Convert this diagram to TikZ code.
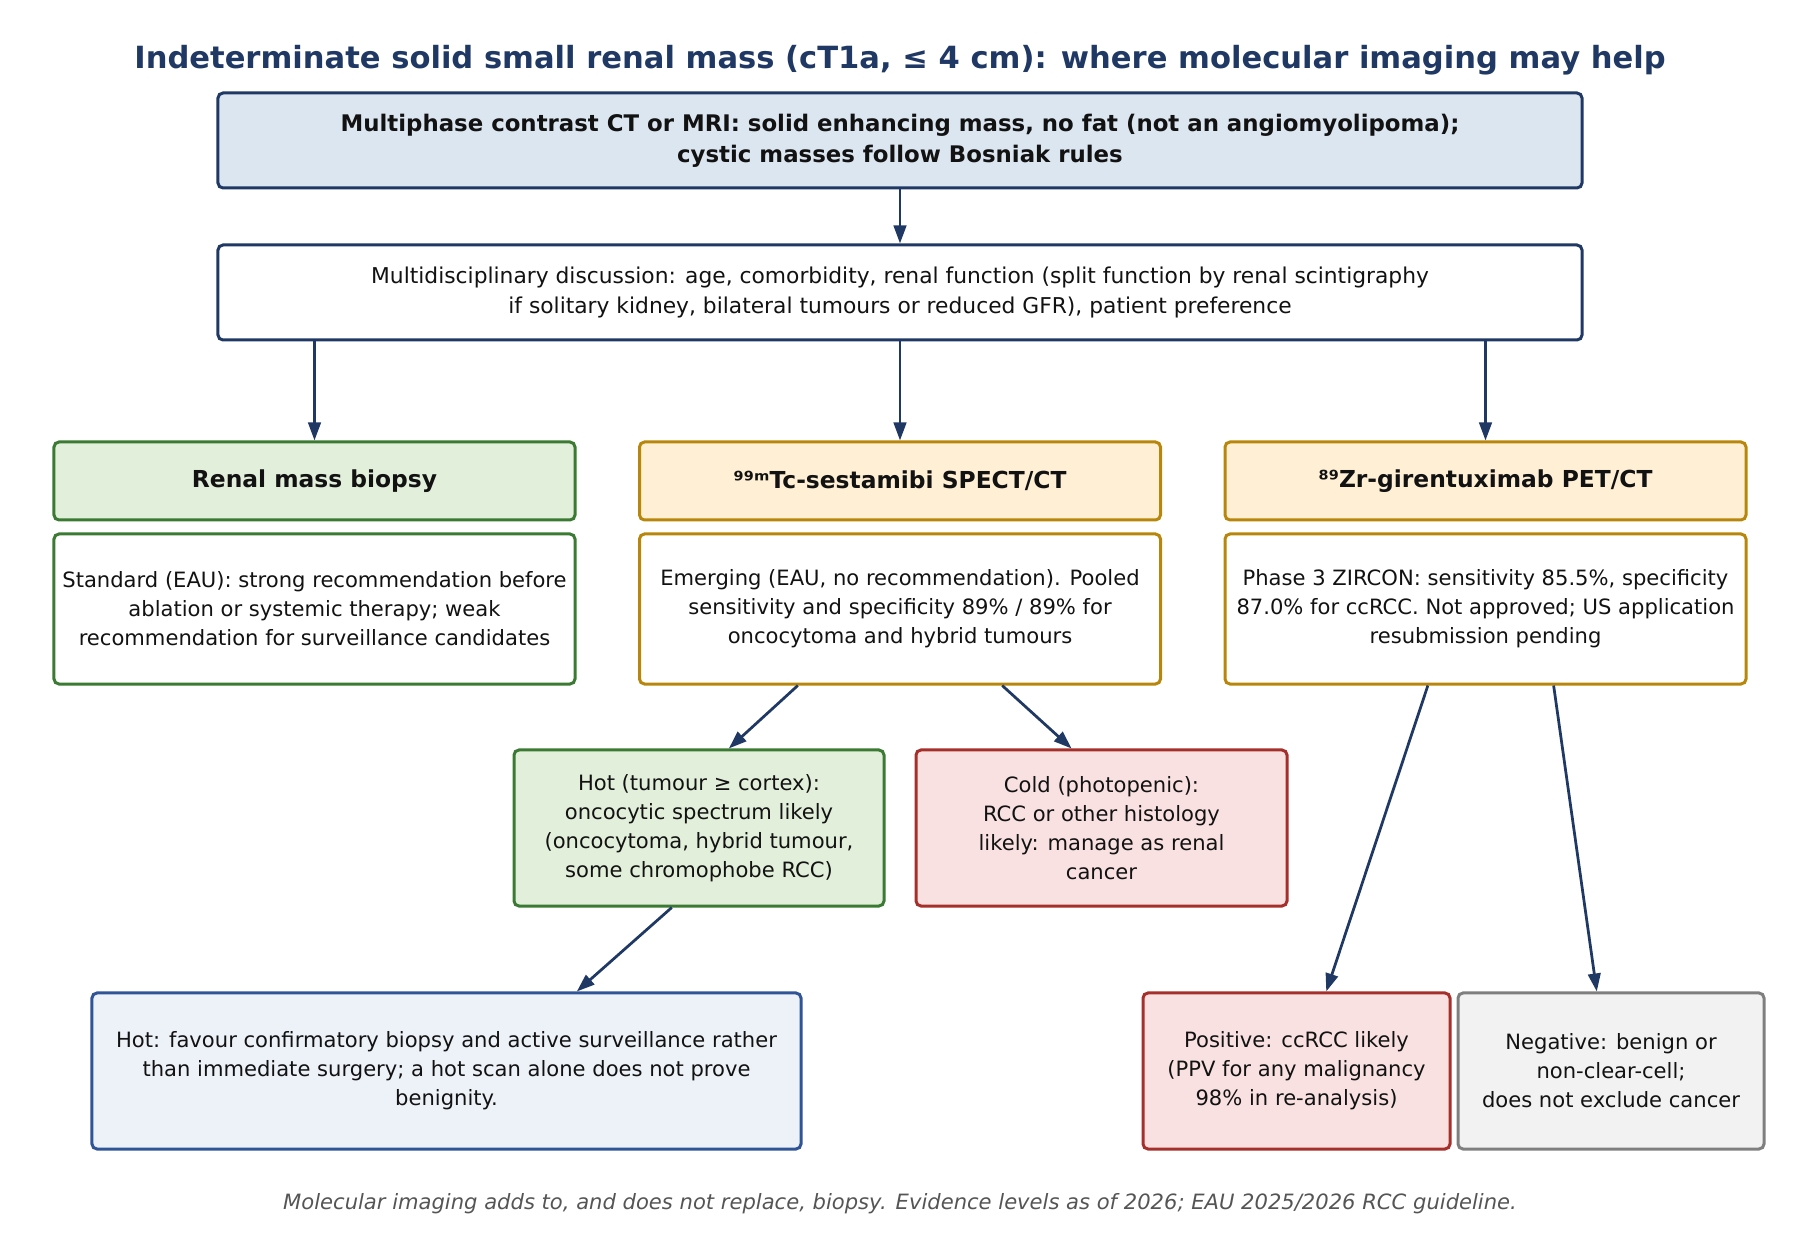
\documentclass[tikz,border=0pt]{standalone}
\usepackage{fontspec}
\setmainfont{DejaVu Sans}
\usetikzlibrary{calc,positioning,arrows.meta}
\definecolor{navy}{HTML}{1F3864}
\definecolor{imgfill}{HTML}{DCE6F1}
\definecolor{grnedge}{HTML}{3A7A32}
\definecolor{grnfill}{HTML}{E2EFDA}
\definecolor{goldedge}{HTML}{B8860B}
\definecolor{goldfill}{HTML}{FFF0D5}
\definecolor{rededge}{HTML}{A52F2A}
\definecolor{redfill}{HTML}{F9E1E1}
\definecolor{bluedge}{HTML}{2F5597}
\definecolor{blufill}{HTML}{EDF2F9}
\definecolor{grayedge}{HTML}{7F7F7F}
\definecolor{grayfill}{HTML}{F2F2F2}
\definecolor{notegray}{HTML}{555555}
\tikzset{
  >={Triangle[length=3.6mm,width=2.5mm]},
  box/.style={
    rectangle,
    rounded corners=1mm,
    line width=0.6mm,
    inner sep=0pt,
    align=center,
    text=black!93,
    font=\fontsize{12}{16.5}\selectfont},
  headbox/.style={box, minimum width=104.2mm, minimum height=15.6mm,
    font=\fontsize{13.3}{16}\selectfont\bfseries},
  bodybox/.style={box, minimum width=104.2mm, minimum height=30mm},
  leafbox/.style={box, minimum height=31.2mm},
  myarrow/.style={draw=navy, line width=0.55mm, ->},
}
\begin{document}
\begin{tikzpicture}[x=0.2mm, y=-0.2mm]
    \tikzset{
        greenbox/.style={draw=grnedge, fill=grnfill},
        goldbox/.style={draw=goldedge, fill=goldfill},
        redbox/.style={draw=rededge, fill=redfill},
    }
    \useasboundingbox (0,0) rectangle (1800,1255);

    \node[font=\fontsize{17.4}{20}\selectfont\bfseries, text=navy] (title) at (900,60)
        {Indeterminate solid small renal mass (cT1a, ≤ 4 cm): where molecular imaging may help};

    % imaging and discussion
    \node[box, draw=navy, fill=imgfill, minimum width=272.8mm, minimum height=19mm,
        font=\fontsize{13}{17.7}\selectfont\bfseries] (imaging) at (900,140.5)
        {Multiphase contrast CT or MRI: solid enhancing mass, no fat (not an angiomyolipoma);\\
         cystic masses follow Bosniak rules};
    \node[box, draw=navy, fill=white, minimum width=272.8mm, minimum height=19mm,
        font=\fontsize{12.4}{16.8}\selectfont, below=10.8mm of imaging] (mdt)
        {Multidisciplinary discussion: age, comorbidity, renal function (split function by renal scintigraphy\\
         if solitary kidney, bilateral tumours or reduced GFR), patient preference};

    % three options
    \node[headbox, greenbox] (biopsy) at (314.5,481) {Renal mass biopsy};
    \node[headbox, goldbox] (sestamibi) at (900,481) {⁹⁹ᵐTc-sestamibi SPECT/CT};
    \node[headbox, goldbox] (zircon) at (1485.5,481) {⁸⁹Zr-girentuximab PET/CT};

    \node[bodybox, draw=grnedge, fill=white, below=2.2mm of biopsy] (biopsytxt)
        {Standard (EAU): strong recommendation before\\
         ablation or systemic therapy; weak\\
         recommendation for surveillance candidates};
    \node[bodybox, draw=goldedge, fill=white, below=2.2mm of sestamibi] (sestamibitxt)
        {Emerging (EAU, no recommendation). Pooled\\
         sensitivity and specificity 89\% / 89\% for\\
         oncocytoma and hybrid tumours};
    \node[bodybox, draw=goldedge, fill=white, below=2.2mm of zircon] (zircontxt)
        {Phase 3 ZIRCON: sensitivity 85.5\%, specificity\\
         87.0\% for ccRCC. Not approved; US application\\
         resubmission pending};

    % sestamibi results
    \node[leafbox, greenbox, minimum width=74mm] (hot) at (699,828)
        {Hot (tumour ≥ cortex):\\
         oncocytic spectrum likely\\
         (oncocytoma, hybrid tumour,\\
         some chromophobe RCC)};
    \node[leafbox, redbox, minimum width=74.2mm] (cold) at (1101.5,828)
        {Cold (photopenic):\\
         RCC or other histology\\
         likely: manage as renal\\
         cancer};
    \node[leafbox, draw=bluedge, fill=blufill, minimum width=141.8mm] (hotplan) at (446.5,1071)
        {Hot: favour confirmatory biopsy and active surveillance rather\\
         than immediate surgery; a hot scan alone does not prove\\
         benignity.};

    % girentuximab results
    \node[leafbox, redbox, minimum width=61.4mm] (positive) at (1296.5,1071)
        {Positive: ccRCC likely\\
         (PPV for any malignancy\\
         98\% in re-analysis)};
    \node[leafbox, draw=grayedge, fill=grayfill, minimum width=61.2mm] (negative) at (1611,1071)
        {Negative: benign or\\
         non-clear-cell;\\
         does not exclude cancer};

    \node[font=\fontsize{12}{14}\selectfont\itshape, text=notegray] (note) at (900,1204)
        {Molecular imaging adds to, and does not replace, biopsy. Evidence levels as of 2026; EAU 2025/2026 RCC guideline.};

    \draw[myarrow] (imaging.south) -- (mdt.north);
    \draw[myarrow] (mdt.south -| biopsy.north) -- (biopsy.north);
    \draw[myarrow] (mdt.south) -- (sestamibi.north);
    \draw[myarrow] (mdt.south -| zircon.north) -- (zircon.north);

    \draw[myarrow] ($(sestamibitxt.south west)!0.305!(sestamibitxt.south east)$) -- ($(hot.north west)!0.58!(hot.north east)$);
    \draw[myarrow] ($(sestamibitxt.south west)!0.695!(sestamibitxt.south east)$) -- ($(cold.north west)!0.42!(cold.north east)$);
    \draw[myarrow] ($(hot.south west)!0.427!(hot.south east)$) -- ($(hotplan.north west)!0.683!(hotplan.north east)$);
    \draw[myarrow] ($(zircontxt.south west)!0.39!(zircontxt.south east)$) -- ($(positive.north west)!0.596!(positive.north east)$);
    \draw[myarrow] ($(zircontxt.south west)!0.63!(zircontxt.south east)$) -- ($(negative.north west)!0.454!(negative.north east)$);
\end{tikzpicture}
\end{document}
